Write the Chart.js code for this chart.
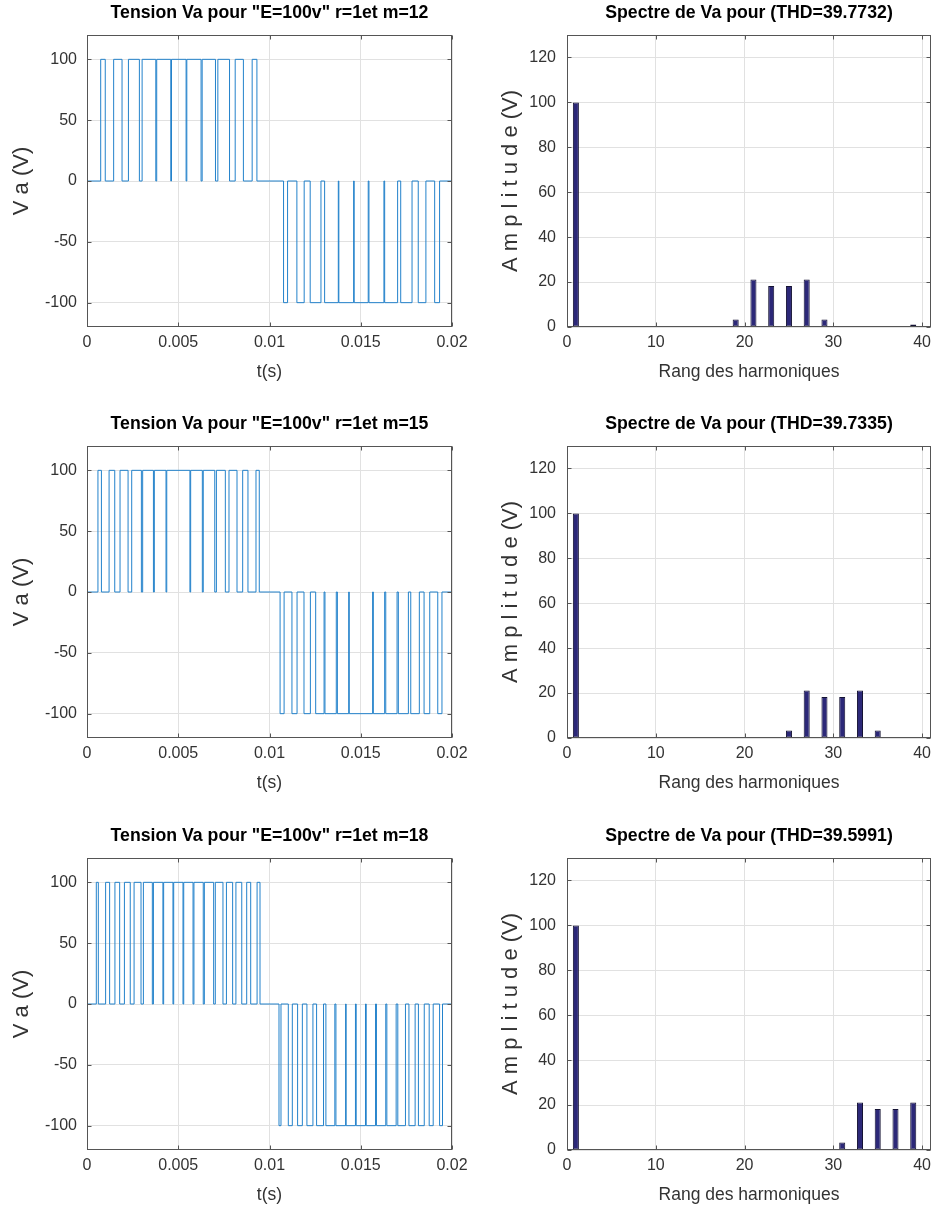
<!DOCTYPE html>
<html lang="fr">
<head>
<meta charset="utf-8">
<title>Onduleur MLI - tension Va et spectre</title>
<script src="https://cdn.jsdelivr.net/npm/chart.js@4.4.0/dist/chart.umd.min.js"></script>
<style>
    html, body { margin: 0; padding: 0; background: #fff; }
    #figure { position: relative; width: 932px; height: 1207px; overflow: hidden; }
    #figure canvas { position: absolute; }
</style>
</head>
<body>
<div id="figure">
    <canvas id="wave12" width="470" height="384" style="left:0;top:0"></canvas>
    <canvas id="spec12" width="462" height="384" style="left:470px;top:0"></canvas>
    <canvas id="wave15" width="470" height="384" style="left:0;top:411px"></canvas>
    <canvas id="spec15" width="462" height="384" style="left:470px;top:411px"></canvas>
    <canvas id="wave18" width="470" height="384" style="left:0;top:823px"></canvas>
    <canvas id="spec18" width="462" height="384" style="left:470px;top:823px"></canvas>
</div>
<script>
// axes ticks
const timeTicks = [0, 0.005, 0.01, 0.015, 0.02];
const voltTicks = [-100, -50, 0, 50, 100];
const rankTicks = [0, 10, 20, 30, 40];
const ampTicks = [0, 20, 40, 60, 80, 100, 120];

const levelE = 100; // tension continue E

// instants de commutation (ms) : [montée, descente] de chaque impulsion
const pulsesM12Pos = [[0.75, 1.0], [1.46, 1.92], [2.27, 2.87], [3.02, 3.77], [3.82, 4.59], [4.63, 5.43],
    [5.47, 6.25], [6.31, 7.04], [7.17, 7.81], [8.12, 8.57], [9.05, 9.31]];
const pulsesM12Neg = [[10.77, 10.99], [11.5, 11.9], [12.23, 12.82], [13.02, 13.77], [13.8, 14.61], [14.64, 15.41],
    [15.45, 16.27], [16.31, 17.02], [17.19, 17.81], [18.15, 18.57], [19.05, 19.32]];

const pulsesM15Pos = [[0.6, 0.79], [1.21, 1.52], [1.81, 2.25], [2.45, 2.98], [3.05, 3.64], [3.69, 4.33],
    [4.37, 5.64], [5.68, 6.32], [6.37, 7.0], [7.09, 7.58], [7.78, 8.22], [8.53, 8.82], [9.26, 9.44]];
const pulsesM15Neg = [[10.58, 10.8], [11.23, 11.51], [11.89, 12.24], [12.53, 12.99], [13.04, 13.66], [13.72, 14.34],
    [14.37, 15.65], [15.69, 16.31], [16.37, 16.99], [17.06, 17.61], [17.74, 18.21], [18.47, 18.78], [19.22, 19.45]];

const pulsesM18Pos = [[0.51, 0.62], [1.02, 1.24], [1.53, 1.79], [2.05, 2.37], [2.58, 2.96], [3.09, 3.58],
    [3.64, 4.16], [4.2, 4.71], [4.75, 5.26], [5.3, 5.81], [5.86, 6.37], [6.43, 6.94], [7.03, 7.45],
    [7.64, 7.98], [8.16, 8.48], [8.75, 8.97], [9.32, 9.48]];
const pulsesM18Neg = [[10.52, 10.63], [11.03, 11.25], [11.54, 11.8], [12.05, 12.38], [12.58, 12.96], [13.09, 13.58],
    [13.64, 14.17], [14.2, 14.71], [14.75, 15.26], [15.3, 15.81], [15.86, 16.37], [16.43, 16.94], [17.03, 17.45],
    [17.64, 17.98], [18.16, 18.48], [18.75, 18.97], [19.32, 19.48]];

// spectre : rangs impairs 1..39
const harmonicRanks = [1, 3, 5, 7, 9, 11, 13, 15, 17, 19, 21, 23, 25, 27, 29, 31, 33, 35, 37, 39];
const spectrumM12 = [100, 0, 0, 0, 0, 0, 0, 0, 0.3, 3.3, 21.2, 18.2, 18.2, 21.2, 3.3, 0.4, 0, 0, 0.2, 1.1];
const spectrumM15 = [100, 0, 0, 0, 0, 0, 0, 0, 0, 0, 0, 0.3, 3.3, 21.2, 18.2, 18.2, 21.2, 3.3, 0.3, 0];
const spectrumM18 = [100, 0, 0, 0, 0, 0, 0, 0, 0, 0, 0, 0, 0, 0, 0.3, 3.3, 21.2, 18.2, 18.2, 21.2];

const FONT = "'Liberation Sans', Arial, Helvetica, sans-serif";
const textColor = '#333';
const gridColor = '#e1e1e1';

// signal en escalier à partir des fronts
const buildWave = (pos, neg) => {
    const pts = [{ x: 0, y: 0 }];
    pos.forEach(([on, off]) => pts.push({ x: on / 1000, y: levelE }, { x: off / 1000, y: 0 }));
    neg.forEach(([on, off]) => pts.push({ x: on / 1000, y: -levelE }, { x: off / 1000, y: 0 }));
    pts.push({ x: 0.02, y: 0 });
    return pts;
};

const fixTicks = list => scale => { scale.ticks = list.map(v => ({ value: v })); };
const fitHeight = h => scale => { scale.height = h; scale.paddingLeft = 0; scale.paddingRight = 0; };
const fitWidth = w => scale => { scale.width = w; scale.paddingTop = 0; scale.paddingBottom = 0; };

// cadre + graduations intérieures (style matlab)
const boxPlugin = {
    id: 'box',
    afterDatasetsDraw(chart) {
        const { ctx, chartArea: a, scales: { x, y } } = chart;
        const L = Math.round(a.left) + 0.5, R = Math.round(a.right) - 0.5;
        const T = Math.round(a.top) + 0.5, B = Math.round(a.bottom) - 0.5;
        ctx.save();
        ctx.strokeStyle = '#555';
        ctx.lineWidth = 1;
        ctx.beginPath();
        x.ticks.forEach(t => {
            const px = Math.round(x.getPixelForValue(t.value)) + 0.5;
            ctx.moveTo(px, B); ctx.lineTo(px, B - 4);
            ctx.moveTo(px, T); ctx.lineTo(px, T + 4);
        });
        y.ticks.forEach(t => {
            const py = Math.round(y.getPixelForValue(t.value)) + 0.5;
            ctx.moveTo(L, py); ctx.lineTo(L + 4, py);
            ctx.moveTo(R, py); ctx.lineTo(R - 4, py);
        });
        ctx.stroke();
        ctx.strokeRect(L, T, R - L, B - T);
        ctx.restore();
    }
};

const baseOptions = (title, rightPad) => ({
    responsive: false,
    animation: false,
    devicePixelRatio: 1,
    events: [],
    layout: { padding: { left: 0, right: rightPad, top: 0, bottom: 0 } },
    plugins: {
        legend: { display: false },
        tooltip: { enabled: false },
        title: {
            display: true, fullSize: false, text: title, color: '#000',
            font: { family: FONT, size: 17.7, weight: 'bold' },
            padding: { top: 2.5, bottom: 11.26 }
        }
    }
});

const xAxis = (min, max, ticks, label, fmt) => ({
    type: 'linear', min, max, offset: false,
    afterBuildTicks: fixTicks(ticks),
    afterFit: fitHeight(57),
    border: { display: false },
    grid: { color: gridColor, drawTicks: false, offset: false },
    ticks: { color: textColor, font: { family: FONT, size: 16 }, padding: 6, maxRotation: 0, autoSkip: false, callback: fmt },
    title: { display: true, text: label, color: textColor, font: { family: FONT, size: 17.5 }, padding: { top: 0, bottom: 1 } }
});

const yAxis = (min, max, ticks, label, width, labelPad, tickPad) => ({
    type: 'linear', min, max,
    afterBuildTicks: fixTicks(ticks),
    afterFit: fitWidth(width),
    border: { display: false },
    grid: { color: gridColor, drawTicks: false },
    ticks: { color: textColor, font: { family: FONT, size: 16 }, padding: tickPad, autoSkip: false },
    title: { display: true, text: label, color: textColor, font: { family: FONT, size: 22 }, padding: { top: labelPad, bottom: 0 } }
});

const waveChart = (id, m, pos, neg) => new Chart(document.getElementById(id), {
    type: 'line',
    data: {
        datasets: [{
            data: buildWave(pos, neg),
            borderColor: '#2382cb',
            borderWidth: 1,
            stepped: 'before',
            pointRadius: 0,
            fill: false
        }]
    },
    options: {
        ...baseOptions(`Tension Va pour "E=100v" r=1et m=${m}`, 18),
        scales: {
            x: xAxis(0, 0.02, timeTicks, 't(s)', v => String(+v.toFixed(3))),
            y: yAxis(-120, 120, voltTicks, 'V a (V)', 87, 8.8, 10)
        }
    },
    plugins: [boxPlugin]
});

const spectrumChart = (id, thd, values) => new Chart(document.getElementById(id), {
    type: 'bar',
    data: {
        datasets: [{
            data: harmonicRanks.map((r, i) => ({ x: r, y: values[i] })),
            backgroundColor: '#2c2878',
            borderColor: '#141233',
            borderWidth: 1,
            borderSkipped: false,
            categoryPercentage: 1,
            barPercentage: 0.34
        }]
    },
    options: {
        ...baseOptions(`Spectre de Va pour (THD=${thd})`, 1),
        scales: {
            x: xAxis(0, 41, rankTicks, 'Rang des harmoniques', v => String(v)),
            y: yAxis(0, 130, ampTicks, 'A m p l i t u d e (V)', 97, 27.8, 11)
        }
    },
    plugins: [boxPlugin]
});

waveChart('wave12', 12, pulsesM12Pos, pulsesM12Neg);
spectrumChart('spec12', '39.7732', spectrumM12);
waveChart('wave15', 15, pulsesM15Pos, pulsesM15Neg);
spectrumChart('spec15', '39.7335', spectrumM15);
waveChart('wave18', 18, pulsesM18Pos, pulsesM18Neg);
spectrumChart('spec18', '39.5991', spectrumM18);
</script>
</body>
</html>
